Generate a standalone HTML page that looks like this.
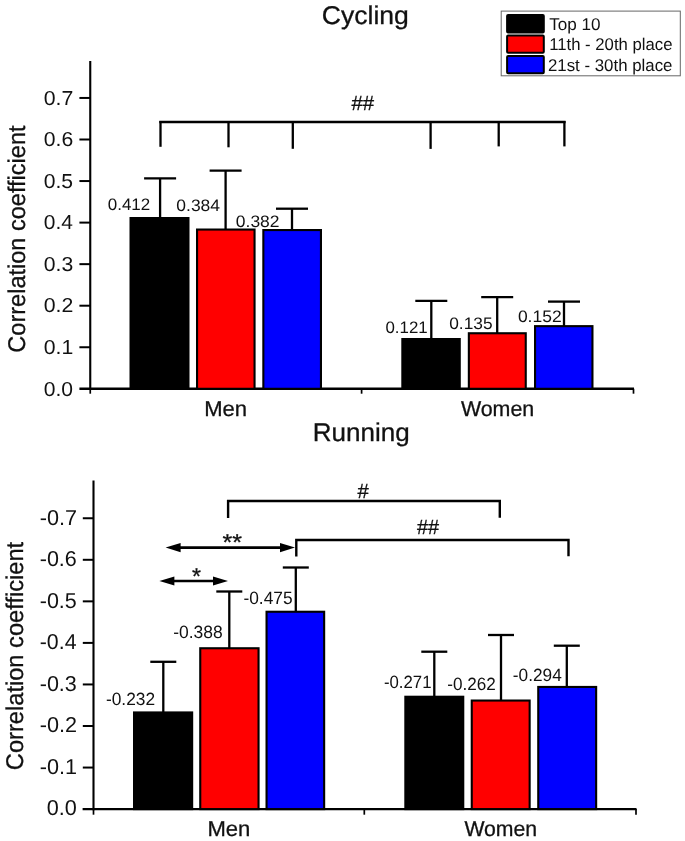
<!DOCTYPE html>
<html lang="en"><head><meta charset="utf-8"><title>Correlation coefficient - Cycling and Running</title>
<style>
html,body{margin:0;padding:0;background:#fff;}
body{width:685px;height:841px;overflow:hidden;}
svg{display:block;}
svg text{font-family:"Liberation Sans", Arial, Helvetica, sans-serif;fill:#111;text-rendering:geometricPrecision;}
svg line,svg polyline{stroke:#000;stroke-linecap:butt;}
svg text.b{stroke:#111;stroke-width:0.3px;}
</style></head><body>
<svg width="685" height="841" viewBox="0 0 685 841">
<rect x="0" y="0" width="685" height="841" fill="#fff"/>
<line x1="90.25" y1="61" x2="90.25" y2="390.0" stroke-width="2.1"/>
<line x1="79.4" y1="388.8" x2="634" y2="388.8" stroke-width="2.4"/>
<line x1="79.4" y1="347.25" x2="90.25" y2="347.25" stroke-width="2.0"/>
<line x1="79.4" y1="305.70000000000005" x2="90.25" y2="305.70000000000005" stroke-width="2.0"/>
<line x1="79.4" y1="264.15000000000003" x2="90.25" y2="264.15000000000003" stroke-width="2.0"/>
<line x1="79.4" y1="222.60000000000002" x2="90.25" y2="222.60000000000002" stroke-width="2.0"/>
<line x1="79.4" y1="181.05" x2="90.25" y2="181.05" stroke-width="2.0"/>
<line x1="79.4" y1="139.50000000000003" x2="90.25" y2="139.50000000000003" stroke-width="2.0"/>
<line x1="79.4" y1="97.95000000000005" x2="90.25" y2="97.95000000000005" stroke-width="2.0"/>
<line x1="90.25" y1="388.8" x2="90.25" y2="393.7" stroke-width="1.7"/>
<line x1="361.6" y1="388.8" x2="361.6" y2="393.7" stroke-width="1.7"/>
<line x1="633.5" y1="388.8" x2="633.5" y2="393.7" stroke-width="1.7"/>
<text transform="translate(43.76,395.55) scale(1.0448,1)" font-size="20.2">0.0</text>
<text transform="translate(43.75,354.0) scale(1.0528,1)" font-size="20.2">0.1</text>
<text transform="translate(43.75,312.45000000000005) scale(1.0548,1)" font-size="20.2">0.2</text>
<text transform="translate(43.75,270.90000000000003) scale(1.0488,1)" font-size="20.2">0.3</text>
<text transform="translate(43.76,229.35000000000002) scale(1.0369,1)" font-size="20.2">0.4</text>
<text transform="translate(43.75,187.8) scale(1.0468,1)" font-size="20.2">0.5</text>
<text transform="translate(43.75,146.25000000000003) scale(1.0488,1)" font-size="20.2">0.6</text>
<text transform="translate(43.75,104.70000000000005) scale(1.0548,1)" font-size="20.2">0.7</text>
<line x1="160.1" y1="178.3" x2="160.1" y2="218" stroke-width="2.3"/>
<line x1="144.1" y1="178.3" x2="176.1" y2="178.3" stroke-width="2.3"/>
<rect x="130.55" y="218.05" width="57.9" height="170.75" fill="#000" stroke="#000" stroke-width="2.1"/>
<line x1="225.6" y1="170.7" x2="225.6" y2="229.5" stroke-width="2.3"/>
<line x1="209.6" y1="170.7" x2="241.6" y2="170.7" stroke-width="2.3"/>
<rect x="197.05" y="229.55" width="57.49999999999999" height="159.25" fill="#f00" stroke="#000" stroke-width="2.1"/>
<line x1="292" y1="208.7" x2="292" y2="230" stroke-width="2.3"/>
<line x1="276.0" y1="208.7" x2="308.0" y2="208.7" stroke-width="2.3"/>
<rect x="263.35" y="230.05" width="57.59999999999999" height="158.75" fill="#00f" stroke="#000" stroke-width="2.1"/>
<line x1="431.3" y1="300.9" x2="431.3" y2="339" stroke-width="2.3"/>
<line x1="415.3" y1="300.9" x2="447.3" y2="300.9" stroke-width="2.3"/>
<rect x="402.35" y="339.05" width="57.4" height="49.75" fill="#000" stroke="#000" stroke-width="2.1"/>
<line x1="497.2" y1="297.1" x2="497.2" y2="333.2" stroke-width="2.3"/>
<line x1="481.2" y1="297.1" x2="513.2" y2="297.1" stroke-width="2.3"/>
<rect x="468.85" y="333.25" width="56.89999999999994" height="55.55" fill="#f00" stroke="#000" stroke-width="2.1"/>
<line x1="564" y1="301.6" x2="564" y2="326.1" stroke-width="2.3"/>
<line x1="548.0" y1="301.6" x2="580.0" y2="301.6" stroke-width="2.3"/>
<rect x="535.05" y="326.15" width="57.4" height="62.65" fill="#00f" stroke="#000" stroke-width="2.1"/>
<text transform="translate(107.72,210.2) scale(1.0238,1)" font-size="16.6">0.412</text>
<text transform="translate(176.30,210.7) scale(1.0539,1)" font-size="16.6">0.384</text>
<text transform="translate(235.80,226.89999999999998) scale(1.0537,1)" font-size="16.6">0.382</text>
<text transform="translate(385.42,332.59999999999997) scale(1.0177,1)" font-size="16.6">0.121</text>
<text transform="translate(449.21,328.59999999999997) scale(1.0444,1)" font-size="16.6">0.135</text>
<text transform="translate(517.90,322.2) scale(1.0537,1)" font-size="16.6">0.152</text>
<line x1="159.3" y1="122" x2="565.6" y2="122" stroke-width="2.3"/>
<line x1="160.5" y1="121" x2="160.5" y2="146.8" stroke-width="2.3"/>
<line x1="228.5" y1="121" x2="228.5" y2="147.3" stroke-width="2.3"/>
<line x1="292.8" y1="121" x2="292.8" y2="148.8" stroke-width="2.3"/>
<line x1="430.6" y1="121" x2="430.6" y2="148.9" stroke-width="2.3"/>
<line x1="498.7" y1="121" x2="498.7" y2="146.4" stroke-width="2.3"/>
<line x1="564.4" y1="121" x2="564.4" y2="146.4" stroke-width="2.3"/>
<text transform="translate(351.50,110.3) scale(0.9911,1)" font-size="20.5" class="b">##</text>
<text transform="translate(321.77,24.1) scale(1.0339,1)" font-size="25.7" class="b">Cycling</text>
<text transform="translate(204.18,415.9) scale(1.0211,1)" font-size="21.6" class="b">Men</text>
<text transform="translate(460.89,415.8) scale(0.9914,1)" font-size="21.6" class="b">Women</text>
<text transform="translate(24.5,352.68) rotate(-90) scale(0.9733,1)" font-size="24.2" class="b">Correlation coefficient</text>
<rect x="501.2" y="11.1" width="179.1" height="64.7" fill="#fff" stroke="#666" stroke-width="1"/>
<rect x="507.1" y="15.1" width="36.7" height="17.40" rx="1" fill="#000" stroke="#000" stroke-width="2"/>
<rect x="507.1" y="35.5" width="36.7" height="17.20" rx="1" fill="#f00" stroke="#000" stroke-width="2"/>
<rect x="507.1" y="55.9" width="36.7" height="17.30" rx="1" fill="#00f" stroke="#000" stroke-width="2"/>
<text transform="translate(549.22,29.5) scale(1.0055,1)" font-size="17">Top 10</text>
<text transform="translate(549.15,49.8) scale(0.9832,1)" font-size="17">11th - 20th place</text>
<text transform="translate(547.96,70.8) scale(0.9903,1)" font-size="17">21st - 30th place</text>
<line x1="93.5" y1="480.6" x2="93.5" y2="810.3000000000001" stroke-width="2.1"/>
<line x1="82.6" y1="809.1" x2="636.5" y2="809.1" stroke-width="2.3"/>
<line x1="82.8" y1="767.5500000000001" x2="93.5" y2="767.5500000000001" stroke-width="2.0"/>
<line x1="82.8" y1="726.0" x2="93.5" y2="726.0" stroke-width="2.0"/>
<line x1="82.8" y1="684.45" x2="93.5" y2="684.45" stroke-width="2.0"/>
<line x1="82.8" y1="642.9000000000001" x2="93.5" y2="642.9000000000001" stroke-width="2.0"/>
<line x1="82.8" y1="601.35" x2="93.5" y2="601.35" stroke-width="2.0"/>
<line x1="82.8" y1="559.8000000000001" x2="93.5" y2="559.8000000000001" stroke-width="2.0"/>
<line x1="82.8" y1="518.25" x2="93.5" y2="518.25" stroke-width="2.0"/>
<line x1="93.5" y1="809.1" x2="93.5" y2="814.7" stroke-width="1.7"/>
<line x1="364.3" y1="809.1" x2="364.3" y2="814.7" stroke-width="1.7"/>
<line x1="636" y1="809.1" x2="636" y2="814.7" stroke-width="1.7"/>
<text transform="translate(46.63,815.4) scale(1.0018,1)" font-size="21.6">0.0</text>
<text transform="translate(39.73,773.85) scale(0.9998,1)" font-size="21.6">-0.1</text>
<text transform="translate(39.73,732.3) scale(1.0013,1)" font-size="21.6">-0.2</text>
<text transform="translate(39.73,690.75) scale(0.9967,1)" font-size="21.6">-0.3</text>
<text transform="translate(39.74,649.2) scale(0.9877,1)" font-size="21.6">-0.4</text>
<text transform="translate(39.73,607.65) scale(0.9952,1)" font-size="21.6">-0.5</text>
<text transform="translate(39.73,566.1) scale(0.9967,1)" font-size="21.6">-0.6</text>
<text transform="translate(39.73,524.55) scale(1.0013,1)" font-size="21.6">-0.7</text>
<line x1="163.3" y1="661.8" x2="163.3" y2="712.4" stroke-width="2.3"/>
<line x1="150.3" y1="661.8" x2="176.3" y2="661.8" stroke-width="2.3"/>
<rect x="134.05" y="712.45" width="58.09999999999999" height="96.65" fill="#000" stroke="#000" stroke-width="2.1"/>
<line x1="229.3" y1="591.5" x2="229.3" y2="648.2" stroke-width="2.3"/>
<line x1="216.3" y1="591.5" x2="242.3" y2="591.5" stroke-width="2.3"/>
<rect x="200.25" y="648.25" width="58.30000000000003" height="160.85" fill="#f00" stroke="#000" stroke-width="2.1"/>
<line x1="295.8" y1="567.5" x2="295.8" y2="611.7" stroke-width="2.3"/>
<line x1="282.8" y1="567.5" x2="308.8" y2="567.5" stroke-width="2.3"/>
<rect x="266.55" y="611.75" width="57.59999999999999" height="197.35" fill="#00f" stroke="#000" stroke-width="2.1"/>
<line x1="434.3" y1="651.7" x2="434.3" y2="696.7" stroke-width="2.3"/>
<line x1="421.3" y1="651.7" x2="447.3" y2="651.7" stroke-width="2.3"/>
<rect x="405.35" y="696.75" width="57.9" height="112.35" fill="#000" stroke="#000" stroke-width="2.1"/>
<line x1="501.0" y1="635" x2="501.0" y2="700.5" stroke-width="2.3"/>
<line x1="488.0" y1="635" x2="514.0" y2="635" stroke-width="2.3"/>
<rect x="471.75" y="700.55" width="57.900000000000055" height="108.55" fill="#f00" stroke="#000" stroke-width="2.1"/>
<line x1="566.8" y1="645.7" x2="566.8" y2="686.9" stroke-width="2.3"/>
<line x1="553.8" y1="645.7" x2="579.8" y2="645.7" stroke-width="2.3"/>
<rect x="538.25" y="686.95" width="57.9" height="122.15" fill="#00f" stroke="#000" stroke-width="2.1"/>
<text transform="translate(105.92,705.1999999999999) scale(0.9760,1)" font-size="17.8">-0.232</text>
<text transform="translate(173.21,637.9) scale(0.9835,1)" font-size="17.8">-0.388</text>
<text transform="translate(243.42,604.1) scale(0.9745,1)" font-size="17.8">-0.475</text>
<text transform="translate(383.95,688.3) scale(0.9423,1)" font-size="17.8">-0.271</text>
<text transform="translate(447.23,689.9) scale(0.9637,1)" font-size="17.8">-0.262</text>
<text transform="translate(512.82,680.8) scale(0.9701,1)" font-size="17.8">-0.294</text>
<polyline points="228.1,518 228.1,501 499.8,501 499.8,517.8" fill="none" stroke-width="2.4"/>
<polyline points="296.3,556.5 296.3,540 568.5,540 568.5,556.3" fill="none" stroke-width="2.4"/>
<text transform="translate(357.50,497.7) scale(0.9890,1)" font-size="20.5" class="b">#</text>
<text transform="translate(417.00,533.7) scale(0.9690,1)" font-size="20.5" class="b">##</text>
<line x1="179.6" y1="547.6" x2="281" y2="547.6" stroke-width="2.6"/>
<polygon points="165.6,547.6 180.6,543.0 180.6,552.2" fill="#000" stroke="none"/>
<polygon points="295,547.6 280,543.0 280,552.2" fill="#000" stroke="none"/>
<line x1="173.4" y1="581" x2="214" y2="581" stroke-width="2.6"/>
<polygon points="159.4,581 174.4,576.4 174.4,585.6" fill="#000" stroke="none"/>
<polygon points="228,581 213,576.4 213,585.6" fill="#000" stroke="none"/>
<text transform="translate(222.56,550.4) scale(1.0913,1)" font-size="23" class="b">**</text>
<text transform="translate(192.10,584.1) scale(1.0043,1)" font-size="23" class="b">*</text>
<text transform="translate(312.75,441.0) scale(1.0130,1)" font-size="25.7" class="b">Running</text>
<text transform="translate(207.38,836.4) scale(1.0211,1)" font-size="21.6" class="b">Men</text>
<text transform="translate(464.39,836.3) scale(0.9831,1)" font-size="21.6" class="b">Women</text>
<text transform="translate(22.6,770.18) rotate(-90) scale(0.9780,1)" font-size="24.2" class="b">Correlation coefficient</text>
</svg>
</body></html>
